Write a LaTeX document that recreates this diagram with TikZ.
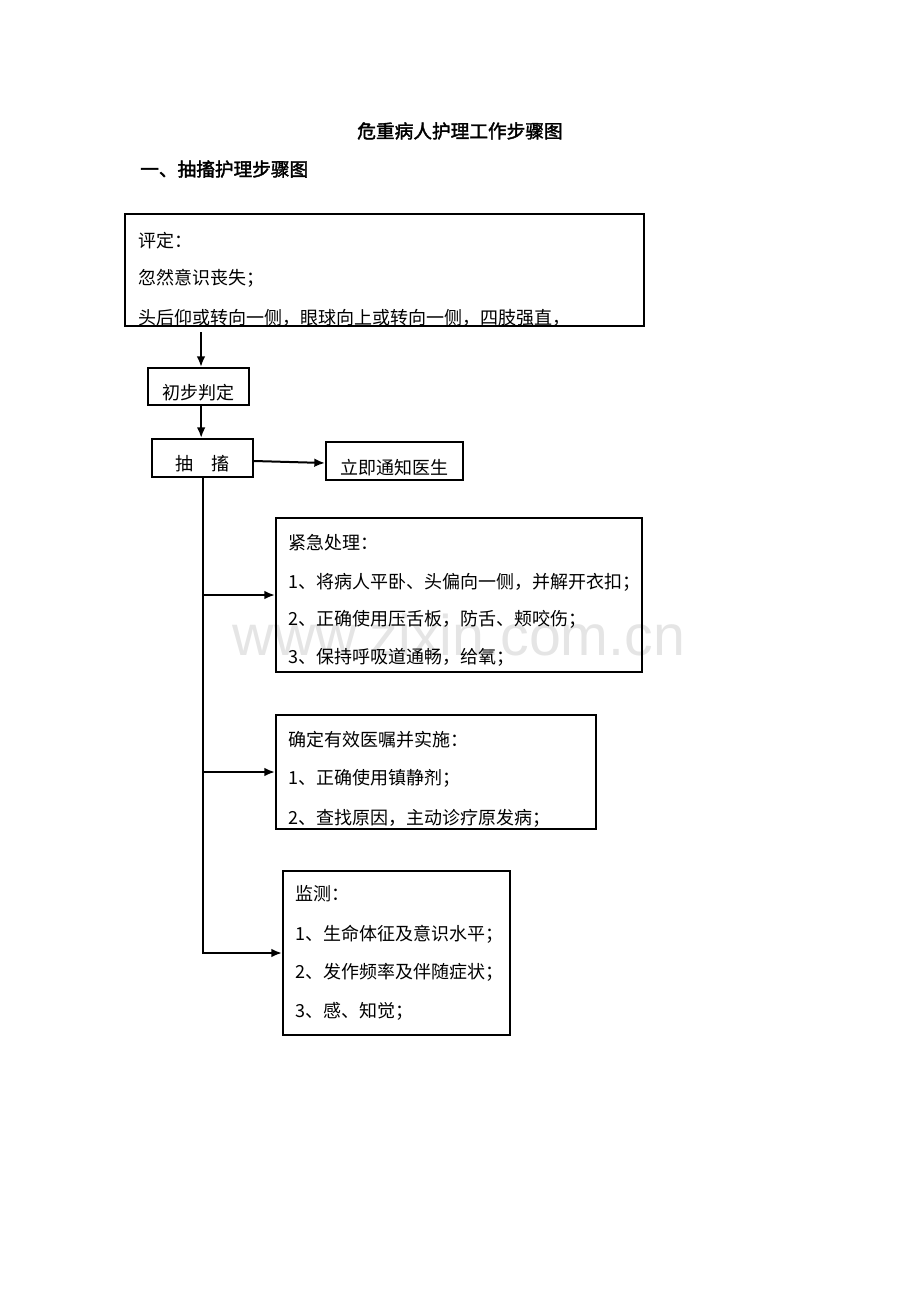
\documentclass[tikz,border=0pt]{standalone}
\usepackage{fontspec}
\usetikzlibrary{arrows.meta}
\newfontfamily\cjk{Noto Sans CJK SC}
\newfontfamily\cjkbf[FakeBold=2]{Noto Sans CJK SC}
\newfontfamily\markfont{Liberation Sans}

\begin{document}
\begin{tikzpicture}[
        x=0.75pt, y=-0.75pt,
        box/.style={draw, rectangle, line width=1.5pt, inner sep=0pt, anchor=north west},
        line/.style={anchor=west, inner sep=0pt, font=\cjk\fontsize{13.5}{15}\selectfont},
        heading/.style={inner sep=0pt, font=\cjkbf\fontsize{14}{16}\selectfont},
        flow/.style={draw, line width=1.5pt, -{Latex[length=8pt,width=6.5pt]}},
    ]
    \useasboundingbox (0,0) rectangle (920,1302);
    % watermark behind everything
    \node[text=gray!20, font=\markfont\fontsize{43}{43}\selectfont] (mark) at (459,635) {www.zixin.com.cn};
    % headings
    \node[heading] (title) at (460,131) {危重病人护理工作步骤图};
    \node[heading, anchor=west] (subtitle) at (140,169) {一、抽搐护理步骤图};
    % First we draw the boxes
    \foreach \pos/\name/\w/\h in {
            {(124,213)/assess/389.25pt/84pt},
            {(147,367)/judge/75.75pt/27.75pt},
            {(151,438)/seizure/75.75pt/28.5pt},
            {(325,441)/notify/102.75pt/28.5pt},
            {(275,517)/urgent/274.5pt/115.5pt},
            {(275,714)/orders/240pt/85.5pt},
            {(282,870)/monitor/170.25pt/123pt}}
        \node[box, minimum width=\w, minimum height=\h] (\name) at \pos {};
    % texts, cut off at the box edge where the box is too short
    \begin{scope}
        \clip (assess.south west) rectangle (assess.north east);
        \foreach \y/\name/\txt in {
                241/a1/评定：,
                278/a2/忽然意识丧失；,
                318/a3/头后仰或转向一侧，眼球向上或转向一侧，四肢强直，}
            \node[line] (\name) at (138,\y) {\txt};
    \end{scope}
    \begin{scope}
        \clip (judge.south west) rectangle (judge.north east);
        \node[line, anchor=center] (j1) at (198,393) {初步判定};
    \end{scope}
    \node[line, anchor=center] (s1) at (202,464) {抽\quad 搐};
    \begin{scope}
        \clip (notify.south west) rectangle (notify.north east);
        \node[line, anchor=center] (n1) at (394,468) {立即通知医生};
    \end{scope}
    \foreach \y/\name/\txt in {
            543/u1/紧急处理：,
            582/u2/1、将病人平卧、头偏向一侧，并解开衣扣；,
            619/u3/2、正确使用压舌板，防舌、颊咬伤；,
            657/u4/3、保持呼吸道通畅，给氧；}
        \node[line] (\name) at (288,\y) {\txt};
    \begin{scope}
        \clip (orders.south west) rectangle (orders.north east);
        \foreach \y/\name/\txt in {
                740/o1/确定有效医嘱并实施：,
                778/o2/1、正确使用镇静剂；,
                818/o3/2、查找原因，主动诊疗原发病；}
            \node[line] (\name) at (288,\y) {\txt};
    \end{scope}
    \foreach \y/\name/\txt in {
            894/m1/监测：,
            934/m2/1、生命体征及意识水平；,
            972/m3/2、发作频率及伴随症状；,
            1011/m4/3、感、知觉；}
        \node[line] (\name) at (295,\y) {\txt};
    % Connect the boxes
    \coordinate (start) at (201,332);
    \draw[flow] (start) -- (start |- judge.north);
    \draw[flow] ([xshift=2pt]judge.south) -- ([xshift=2pt]judge.south |- seizure.north);
    \draw[flow] ([yshift=-2.25pt]seizure.east) -- ([yshift=-1.5pt]notify.west);
    \draw[flow] (seizure.south) -- (seizure.south |- monitor.west) -- (monitor.west);
    \foreach \dest in {urgent, orders}
        \draw[flow] (seizure.south |- \dest.west) -- (\dest.west);
\end{tikzpicture}
\end{document}
